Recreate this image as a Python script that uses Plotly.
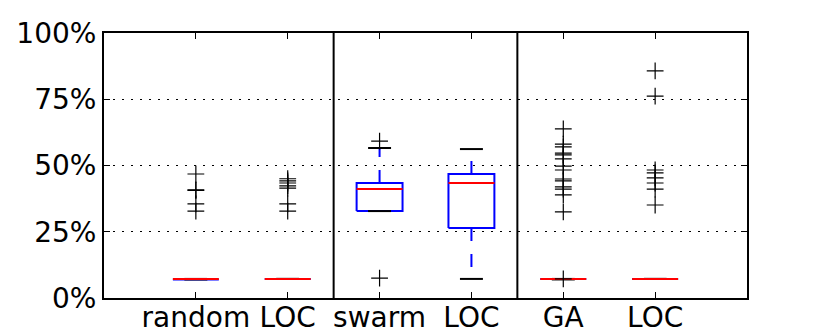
import plotly.graph_objects as go

# summary statistics of each box (percent)
labels = ["random", "LOC", "swarm", "LOC", "GA", "LOC"]
q1 = [7.0, 7.2, 32.8, 26.4, 7.2, 7.2]
median = [7.2, 7.2, 41.1, 43.4, 7.2, 7.2]
q3 = [7.2, 7.2, 43.4, 46.8, 7.2, 7.2]
whis_lo = [7.0, 7.2, 32.8, 7.2, 7.0, 7.2]
whis_hi = [7.2, 7.2, 56.6, 56.2, 7.2, 7.2]
fliers = [
    [46.8, 40.8, 40.6, 35.5, 32.8],
    [45.0, 44.2, 43.4, 42.3, 41.5, 35.5, 32.8],
    [59.2, 7.5],
    [],
    [63.8, 58.1, 57.0, 54.7, 54.0, 52.5, 49.8, 48.3, 44.9, 44.2, 41.9, 41.1, 38.9, 32.5, 7.2],
    [85.7, 76.2, 48.3, 47.2, 45.3, 43.4, 41.1, 35.1],
]
y_ticks = [0, 25, 50, 75, 100]
group_size = 2

pos = list(range(1, len(labels) + 1))
hw = 0.25   # half box width
cw = 0.125  # half cap width

box_x, box_y, med_x, med_y = [], [], [], []
wh_x, wh_y, cap_x, cap_y = [], [], [], []
fl_x, fl_y = [], []
for i, p in enumerate(pos):
    box_x += [p - hw, p + hw, p + hw, p - hw, p - hw, None]
    box_y += [q1[i], q1[i], q3[i], q3[i], q1[i], None]
    med_x += [p - hw, p + hw, None]
    med_y += [median[i], median[i], None]
    wh_x += [p, p, None, p, p, None]
    wh_y += [q1[i], whis_lo[i], None, q3[i], whis_hi[i], None]
    cap_x += [p - cw, p + cw, None, p - cw, p + cw, None]
    cap_y += [whis_lo[i], whis_lo[i], None, whis_hi[i], whis_hi[i], None]
    fl_x += [p] * len(fliers[i])
    fl_y += fliers[i]

fig = go.Figure()
fig.add_trace(go.Scatter(x=wh_x, y=wh_y, mode="lines",
                         line=dict(color="#0000ff", width=2, dash="13px,13px")))
fig.add_trace(go.Scatter(x=box_x, y=box_y, mode="lines",
                         line=dict(color="#0000ff", width=2)))
fig.add_trace(go.Scatter(x=cap_x, y=cap_y, mode="lines",
                         line=dict(color="black", width=2)))
fig.add_trace(go.Scatter(x=med_x, y=med_y, mode="lines",
                         line=dict(color="#ff0000", width=2)))
fig.add_trace(go.Scatter(x=fl_x, y=fl_y, mode="markers",
                         marker=dict(symbol="cross-thin", size=12,
                                     line=dict(color="black", width=1.2))))

# separators between the method groups
for k in range(group_size, len(labels), group_size):
    fig.add_shape(type="line", xref="x", yref="paper", x0=k + 0.5, x1=k + 0.5,
                  y0=0, y1=1, line=dict(color="black", width=2))

# the page body adds an 8px offset, so the figure is 8px smaller than the window
fig.update_layout(
    width=822, height=324,
    margin=dict(l=96, r=83, t=25, b=34),
    paper_bgcolor="white", plot_bgcolor="white",
    showlegend=False,
    font=dict(family="DejaVu Sans", size=28, color="black"),
)
fig.update_xaxes(range=[0, len(labels) + 1], tickvals=pos, ticktext=labels,
                 automargin=False, ticklabelstandoff=-7,
                 showgrid=False, zeroline=False, showline=True, linecolor="black",
                 linewidth=2, mirror="ticks", ticks="inside", ticklen=6,
                 tickcolor="black", tickwidth=1)
fig.update_yaxes(range=[0, 100], tickvals=y_ticks,
                 ticktext=[f"{v}%" for v in y_ticks], automargin=False,
                 showgrid=True, gridcolor="black", griddash="2px,7px", gridwidth=1,
                 zeroline=False, showline=True, linecolor="black", linewidth=2,
                 mirror="ticks", ticks="inside", ticklen=6, tickcolor="black",
                 tickwidth=1)

fig.write_html("out.html")
